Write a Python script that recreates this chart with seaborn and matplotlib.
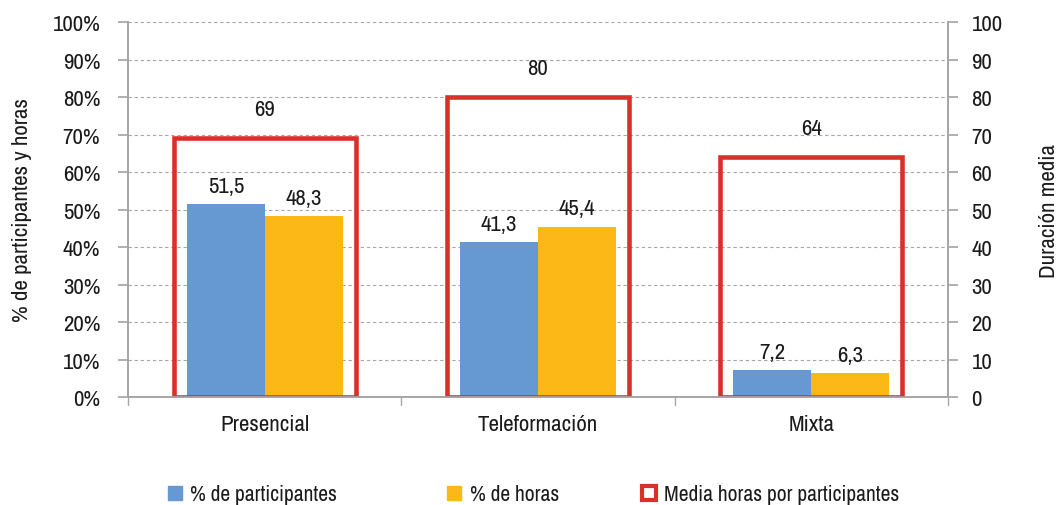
import pandas as pd
import seaborn as sns
import matplotlib.pyplot as plt
from matplotlib import font_manager
from matplotlib.lines import Line2D
from matplotlib.ticker import FuncFormatter

categorias = ['Presencial', 'Teleformación', 'Mixta']
pct_participantes = [51.5, 41.3, 7.2]
pct_horas = [48.3, 45.4, 6.3]
media_horas = [69, 80, 64]
series = ['% de participantes', '% de horas']
serie_media = 'Media horas por participantes'

blue = '#6699D1'
orange = '#FBB816'
red = '#D9312A'
grid_c = '#A6A6A6'
txt = '#1a1a1a'

sns.set_theme(style='white')
names = sorted({f.name for f in font_manager.fontManager.ttflist})
narrow = [n for n in names if 'Condensed' in n or 'Narrow' in n]
base = narrow[0] if narrow else 'Liberation Sans'
plt.rcParams['font.family'] = [base, 'DejaVu Sans']
fs = 16.5 if narrow else 13.5

df = pd.DataFrame({
    'cat': categorias * 2,
    'serie': [series[0]] * 3 + [series[1]] * 3,
    'valor': pct_participantes + pct_horas,
})

fig = plt.figure(figsize=(10.59, 5.06), dpi=100)
ax = fig.add_axes([0.121, 0.2134, 0.774, 0.7411])

sns.barplot(data=df, x='cat', y='valor', hue='serie', palette=[blue, orange],
            width=0.57, ax=ax, legend=False, saturation=1, linewidth=0)
ax.set_ylim(0, 100)
ax.set_xlim(-0.5, 2.5)
ax.set_yticks(range(0, 101, 10))
ax.yaxis.set_major_formatter(FuncFormatter(lambda v, p: f'{int(v)}%'))
ax.yaxis.grid(True, linestyle=(0, (3, 2.5)), color=grid_c, linewidth=0.8)
ax.set_axisbelow(True)
ax.set_xlabel('')
ax.set_ylabel('% de participantes y horas', fontsize=fs, labelpad=15, color=txt)
ax.tick_params(axis='y', labelsize=fs, length=7, pad=13, color=grid_c, left=True, labelcolor=txt)
ax.tick_params(axis='x', labelsize=fs, length=0, pad=12, labelcolor=txt)
for c in ax.containers:
    ax.bar_label(c, labels=[f'{v:.1f}'.replace('.', ',') for v in c.datavalues],
                 fontsize=fs, padding=6, color=txt)

ax2 = ax.twinx()
sns.barplot(x=categorias, y=media_horas, ax=ax2, fill=False, color=red,
            width=0.665, linewidth=3.3, errorbar=None, saturation=1)
ax2.set_ylim(0, 100)
ax2.set_xlim(-0.5, 2.5)
ax2.set_yticks(range(0, 101, 10))
ax2.set_ylabel('Duración media', fontsize=fs, labelpad=26, color=txt)
ax2.tick_params(axis='y', labelsize=fs, length=7, pad=10, color=grid_c, right=True, labelcolor=txt)
for c in ax2.containers:
    ax2.bar_label(c, labels=[str(int(v)) for v in c.datavalues], fontsize=fs,
                  padding=14, color=txt)

for a in (ax, ax2):
    for s in a.spines.values():
        s.set_color(grid_c)
    a.spines['top'].set_visible(False)

# separator ticks on the category axis
for xb in [-0.5, 0.5, 1.5, 2.5]:
    ax.plot([xb, xb], [0, -2], color=grid_c, lw=1, clip_on=False)

handles = [
    Line2D([], [], marker='s', ls='', markersize=10, markerfacecolor=blue, markeredgecolor=blue),
    Line2D([], [], marker='s', ls='', markersize=10, markerfacecolor=orange, markeredgecolor=orange),
    Line2D([], [], marker='s', ls='', markersize=9.5, markerfacecolor='white', markeredgecolor=red, markeredgewidth=3),
]
labels = series + [serie_media]
for h, lab, xpos in zip(handles, labels, [0.155, 0.419, 0.603]):
    fig.legend([h], [lab], loc='center left', bbox_to_anchor=(xpos, 0.021),
               frameon=False, fontsize=15.5, borderpad=0, borderaxespad=0,
               handletextpad=0.2, handlelength=1.0, labelcolor=txt)

fig.savefig('out.png', dpi=100)
